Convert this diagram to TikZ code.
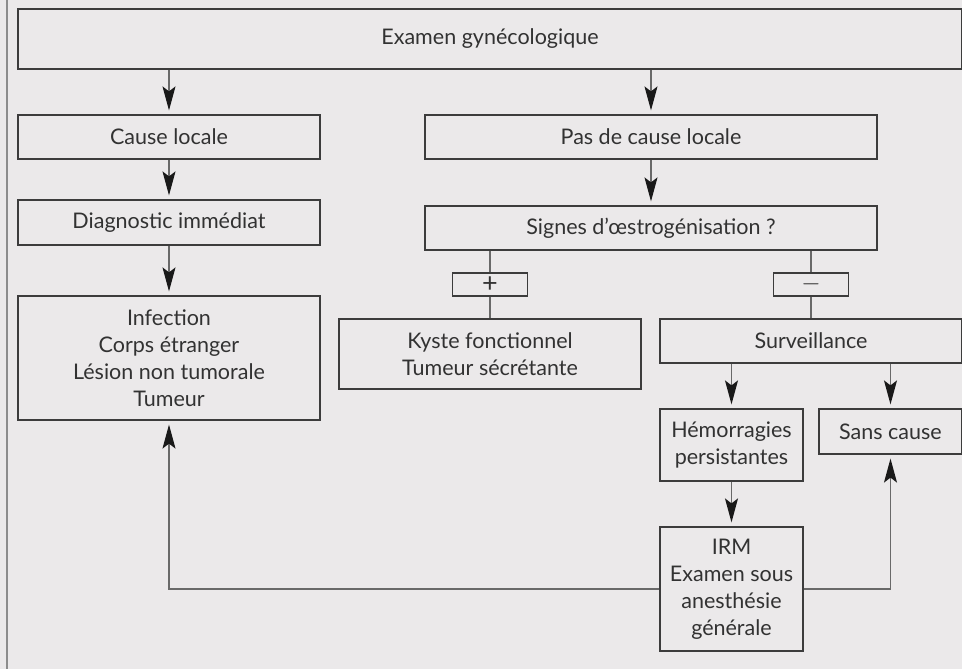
\documentclass[tikz,border=0pt]{standalone}
\usepackage{fontspec}
\setmainfont{Lato}
\usetikzlibrary{arrows.meta}
\definecolor{paper}{RGB}{235,233,234}
\definecolor{boxline}{RGB}{60,60,60}
\definecolor{wire}{RGB}{105,105,105}
\definecolor{ink}{RGB}{50,50,50}

\begin{document}
\begin{tikzpicture}[x = 1pt, y = -1pt,
  box/.style = {draw = boxline, line width = 1.2pt, inner sep = 0pt, align = center,
    text = ink, font = \fontsize{21.5}{27}\selectfont},
  sign/.style = {box, minimum width = 75pt, minimum height = 23pt, font = \fontsize{27}{27}\selectfont},
  arr/.style = {draw = wire, line width = 1.2pt,
    -{Stealth[length = 24pt, width = 13pt, inset = 5pt, color = black!90]}, shorten > = 4pt},
  wire/.style = {draw = wire, line width = 1.2pt}]
\useasboundingbox (0, 0) rectangle (962, 669);
\fill[paper] (0, 0) rectangle (962, 669);
\draw[black!45, line width = 2pt] (7, 0) -- (7, 669);

\node[box, minimum width = 944pt, minimum height = 60pt] (exam) at (490, 39) {Examen gynécologique};
\node[box, minimum width = 302pt, minimum height = 44pt] (cause) at (169, 137) {Cause locale};
\node[box, minimum width = 452pt, minimum height = 44pt] (pascause) at (651, 137) {Pas de cause locale};
\node[box, minimum width = 302pt, minimum height = 45pt] (diag) at (169, 222.5) {Diagnostic immédiat};
\node[box, minimum width = 452pt, minimum height = 44pt] (signes) at (651, 228) {Signes d’œstrogénisation ?};
\node[box, minimum width = 302pt, minimum height = 124pt] (infect) at (169, 358)
  {Infection\\Corps étranger\\Lésion non tumorale\\Tumeur};
\node[sign] (plus) at (490, 284.5) {+};
\node[sign] (minus) at (811, 284.5) {$-$};
\node[box, minimum width = 302pt, minimum height = 70pt] (kyste) at (490, 354)
  {Kyste fonctionnel\\Tumeur sécrétante};
\node[box, minimum width = 302pt, minimum height = 44pt] (surv) at (811, 341) {Surveillance};
\node[box, minimum width = 143pt, minimum height = 72pt] (hemo) at (731.5, 445)
  {Hémorragies\\persistantes};
\node[box, minimum width = 143pt, minimum height = 45pt] (sans) at (890.5, 431.5) {Sans cause};
\node[box, minimum width = 143pt, minimum height = 124pt] (irm) at (731.5, 589)
  {IRM\\Examen sous\\anesthésie\\générale};

\draw[arr] (exam.south -| cause.north) -- (cause.north);
\draw[arr] (exam.south -| pascause.north) -- (pascause.north);
\draw[arr] (cause) -- (diag);
\draw[arr] (pascause) -- (signes);
\draw[arr] (diag) -- (infect);
\draw[wire] (signes.south -| plus.north) -- (plus.north);
\draw[wire] (plus.south) -- (kyste.north -| plus.south);
\draw[wire] (signes.south -| minus.north) -- (minus.north);
\draw[wire] (minus.south) -- (surv.north -| minus.south);
\draw[arr] (surv.south -| hemo.north) -- (hemo.north);
\draw[arr] (surv.south -| sans.north) -- (sans.north);
\draw[arr] (hemo) -- (irm);
\draw[arr] (irm.west) -| (infect.south);
\draw[arr] (irm.east) -| (sans.south);
\end{tikzpicture}
\end{document}
